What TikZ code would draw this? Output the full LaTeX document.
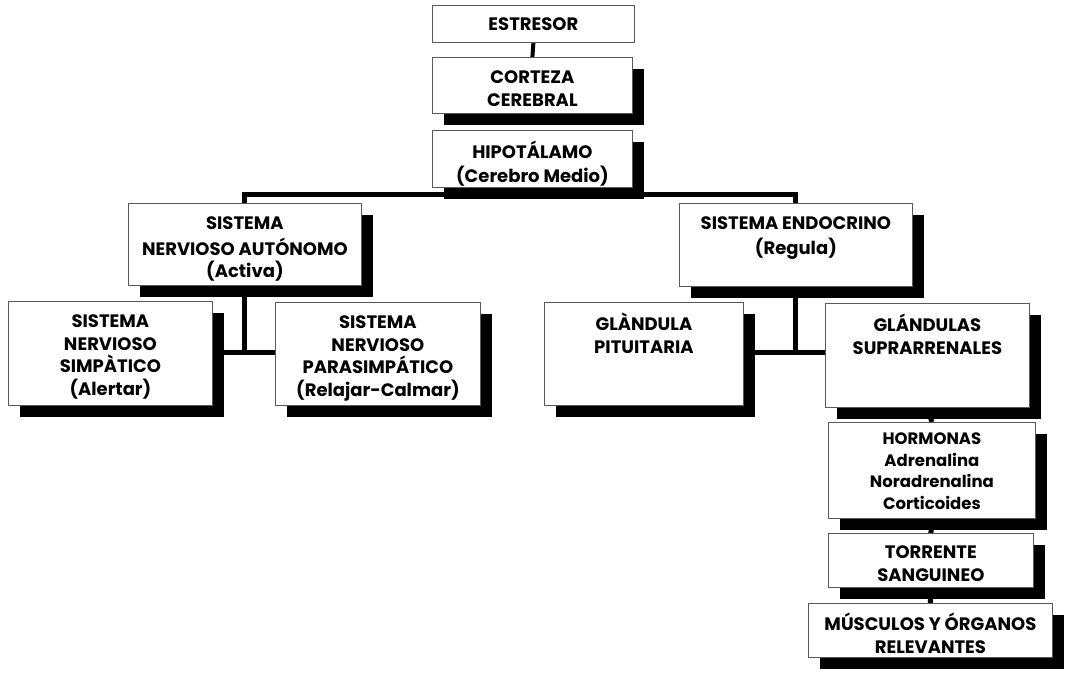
\documentclass[tikz,border=0pt]{standalone}
\usepackage{fontspec}
\setmainfont{Poppins}
\usetikzlibrary{shadows,backgrounds}
\begin{document}
\begin{tikzpicture}[x=1pt,y=-1pt,
  plain/.style={draw=black!65, line width=0.8pt, fill=white, inner sep=0pt, anchor=north west},
  box/.style={plain, drop shadow={shadow xshift=12pt, shadow yshift=-12pt, opacity=1, fill=black}},
  lbl/.style={font=\bfseries\fontsize{18}{22.5}\selectfont, align=center, inner sep=0pt, anchor=north},
  conn/.style={line width=5pt, black}]
\useasboundingbox (0,0) rectangle (1066,673);
% boxes
\node[plain, minimum width=202, minimum height=37, font=\bfseries\fontsize{18}{22.5}\selectfont] (est) at (432,5) {ESTRESOR};
\node[box, minimum width=200, minimum height=56] (cor) at (432,57) {};
\node[box, minimum width=200, minimum height=57] (hip) at (432,130) {};
\node[box, minimum width=233, minimum height=82] (sna) at (128,203) {};
\node[box, minimum width=233, minimum height=83] (endo) at (679,203) {};
\node[box, minimum width=204, minimum height=104] (simp) at (8,301) {};
\node[box, minimum width=205, minimum height=103] (para) at (275,302) {};
\node[box, minimum width=199, minimum height=103] (pit) at (544,302) {};
\node[box, minimum width=204, minimum height=104] (supra) at (825,303) {};
\node[box, minimum width=207, minimum height=96] (horm) at (828,422) {};
\node[box, minimum width=205, minimum height=54] (torr) at (828,533) {};
\node[box, minimum width=244, minimum height=54] (musc) at (808,603) {};
% labels
\node[lbl] (cort) at ([yshift=-11pt]cor.north) {\strut CORTEZA\\CEREBRAL};
\node[lbl] (hipt) at ([yshift=-11pt]hip.north) {\strut HIPOTÁLAMO\\(Cerebro Medio)};
\node[lbl] (snat) at ([yshift=-11pt]sna.north) {\strut SISTEMA\\NERVIOSO AUTÓNOMO\\(Activa)};
\node[lbl] (endot) at ([yshift=-11pt]endo.north) {\strut SISTEMA ENDOCRINO\\(Regula)};
\node[lbl] (simpt) at ([yshift=-11pt]simp.north) {\strut SISTEMA\\NERVIOSO\\SIMPÀTICO\\(Alertar)};
\node[lbl] (parat) at ([yshift=-11pt]para.north) {\strut SISTEMA\\NERVIOSO\\PARASIMPÁTICO\\(Relajar-Calmar)};
\node[lbl] (pitt) at ([yshift=-11pt]pit.north) {\strut GLÀNDULA\\PITUITARIA};
\node[lbl] (suprat) at ([yshift=-11pt]supra.north) {\strut GLÁNDULAS\\SUPRARRENALES};
\node[lbl, font=\bfseries\fontsize{16.5}{21.7}\selectfont] (hormt) at ([yshift=-7pt]horm.north) {\strut HORMONAS\\Adrenalina\\Noradrenalina\\Corticoides};
\node[lbl] (torrt) at ([yshift=-10pt]torr.north) {\strut TORRENTE\\SANGUINEO};
\node[lbl] (musct) at ([yshift=-10pt]musc.north) {\strut MÚSCULOS Y ÓRGANOS\\RELEVANTES};
% connectors
\begin{scope}[on background layer]
\draw[line width=4pt] (est.south) -- (cor.north);
\draw[conn] (hip.south) -- ++(0,8);
\draw[conn] (sna.north) -- ++(0,-9) -| (endo.north);
\draw[conn] (sna.south) -- ++(0,67) coordinate (sj);
\draw[conn] (simp.east |- sj) -- (para.west |- sj);
\draw[conn] (endo.south) -- ++(0,66) coordinate (ej);
\draw[conn] (pit.east |- ej) -- (supra.west |- ej);
\draw[conn] (supra.south) -- (horm.north);
\draw[conn] (horm.south) -- (torr.north);
\draw[conn] (torr.south) -- (musc.north);
\end{scope}
\end{tikzpicture}
\end{document}
